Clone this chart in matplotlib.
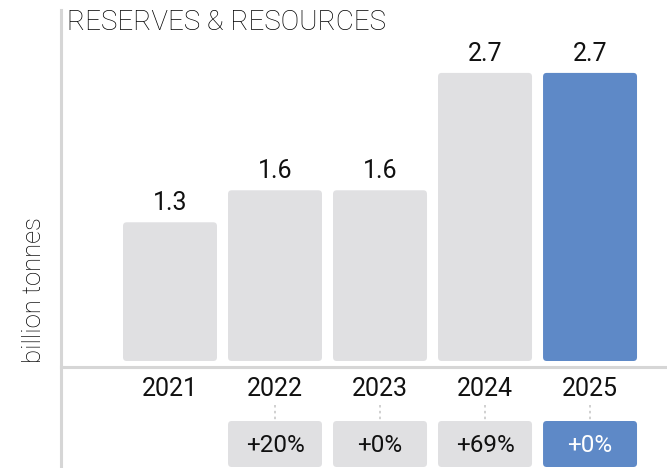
import matplotlib
matplotlib.use("Agg")
import matplotlib.pyplot as plt
from matplotlib.patches import FancyBboxPatch
from matplotlib.lines import Line2D

years = ["2021", "2022", "2023", "2024", "2025"]
values = [1.3, 1.6, 1.6, 2.7, 2.7]
value_labels = ["1.3", "1.6", "1.6", "2.7", "2.7"]
changes = [None, "+20%", "+0%", "+69%", "+0%"]

GREY = "#e0e0e2"
BLUE = "#5e89c7"
LINE = "#d6d6d6"

W, H = 667, 468
fig = plt.figure(figsize=(W / 100, H / 100), dpi=100)
plt.rcParams["font.family"] = ["Roboto", "DejaVu Sans"]

# plot area: zero line at 361 px from top, left edge at 61 px
px_per_unit = 106.7
ax_left, ax_top, y0 = 61, 10, 361
ax = fig.add_axes([ax_left / W, (H - y0) / H, 1 - ax_left / W, (y0 - ax_top) / H])
ax.set_xlim(-1.038, 4.733)
ax.set_ylim(0, (y0 - ax_top) / px_per_unit)
ax.axis("off")

bw = 0.895
u = 1 / px_per_unit
for i, (v, lab) in enumerate(zip(values, value_labels)):
    col = BLUE if i == len(values) - 1 else GREY
    ax.add_patch(FancyBboxPatch((i - bw / 2, 0), bw, v,
                                boxstyle="round,pad=0,rounding_size=0.035",
                                fc=col, ec="none", clip_on=False))
    ax.text(i, v + 7 * u, lab, ha="center", va="bottom", fontsize=18,
            color="#111111")
    ax.text(i, -28 * u, years[i], ha="center", va="center", fontsize=18,
            color="#111111")
    if changes[i] is not None:
        ax.plot([i, i], [-44 * u, -59 * u], ls=(0, (1.5, 2)), color="#c8c8c8",
                lw=1.2, clip_on=False)
        ax.add_patch(FancyBboxPatch((i - bw / 2, -106 * u), bw, 46 * u,
                                    boxstyle="round,pad=0,rounding_size=0.035",
                                    fc=col, ec="none", clip_on=False))
        ax.text(i, -85 * u, changes[i], ha="center", va="center", fontsize=17.5,
                color="white" if col == BLUE else "#111111")

# frame lines
fig.add_artist(Line2D([ax_left / W, 1], [(H - 367) / H] * 2, color=LINE, lw=2.2))
fig.add_artist(Line2D([ax_left / W] * 2, [0, (H - 10) / H], color=LINE, lw=2.2))

fig.text(67 / W, (H - 22) / H, "RESERVES & RESOURCES", ha="left", va="center",
         fontsize=20, fontweight="light", color="#000000")
fig.text(34 / W, (H - 290) / H, "billion tonnes", rotation=90, ha="center",
         va="center", fontsize=18.5, fontweight="light", color="#000000")

fig.savefig("out.png", dpi=100)
